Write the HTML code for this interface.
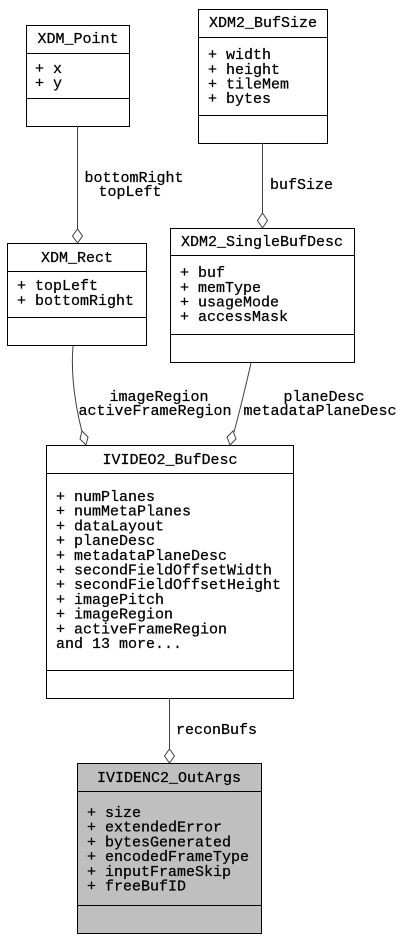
<!DOCTYPE html>
<html><head><meta charset="utf-8"><style>
html,body{margin:0;padding:0;background:#fff;}
svg{display:block;}
text{font-family:"Liberation Mono","DejaVu Sans Mono",monospace;font-size:15px;fill:#000;stroke:#000;stroke-width:0.25;}
.c{text-anchor:middle;}
</style></head><body>
<svg width="420" height="940" viewBox="0 0 420 940" xmlns="http://www.w3.org/2000/svg">
<g fill="#fff" stroke="#000" stroke-width="1">
<rect x="26.5" y="25.5" width="103" height="101"/>
<line x1="26.5" y1="53.5" x2="129.5" y2="53.5"/>
<line x1="26.5" y1="98.5" x2="129.5" y2="98.5"/>
<rect x="198.5" y="9.5" width="129" height="134"/>
<line x1="198.5" y1="37.5" x2="327.5" y2="37.5"/>
<line x1="198.5" y1="115.5" x2="327.5" y2="115.5"/>
<rect x="7.5" y="243.5" width="139" height="102"/>
<line x1="7.5" y1="271.5" x2="146.5" y2="271.5"/>
<line x1="7.5" y1="317.5" x2="146.5" y2="317.5"/>
<rect x="170.5" y="228.5" width="184" height="134"/>
<line x1="170.5" y1="255.5" x2="354.5" y2="255.5"/>
<line x1="170.5" y1="334.5" x2="354.5" y2="334.5"/>
<rect x="46.5" y="445.5" width="247" height="253"/>
<line x1="46.5" y1="473.5" x2="293.5" y2="473.5"/>
<line x1="46.5" y1="670.5" x2="293.5" y2="670.5"/>
<rect x="77.5" y="763.5" width="184" height="170" fill="#bfbfbf"/>
<line x1="77.5" y1="791.5" x2="261.5" y2="791.5"/>
<line x1="77.5" y1="905.5" x2="261.5" y2="905.5"/>
</g>
<g fill="none" stroke="#404040" stroke-width="1">
<line x1="77.5" y1="126" x2="77.5" y2="229"/>
<polygon points="77.5,243 72.5,236 77.5,229 82.5,236" fill="#fff"/>
<line x1="262.5" y1="143" x2="262.5" y2="213"/>
<polygon points="262.5,228 257.5,220.5 262.5,213 267.5,220.5" fill="#fff"/>
<path d="M73,346 C71,370 74,400 82,432"/>
<polygon points="86,445 80,439 82,431 88,437" fill="#fff"/>
<path d="M251,363 C246,385 240,410 234,432"/>
<polygon points="230,445 227,437 233,431 236,439" fill="#fff"/>
<line x1="169.5" y1="698" x2="169.5" y2="749"/>
<polygon points="169.5,763 164.5,756 169.5,749 174.5,756" fill="#fff"/>
</g>
<text class="c" x="78" y="43">XDM_Point</text>
<text class="c" x="263" y="27">XDM2_BufSize</text>
<text class="c" x="77" y="262">XDM_Rect</text>
<text class="c" x="262" y="246">XDM2_SingleBufDesc</text>
<text class="c" x="170" y="464">IVIDEO2_BufDesc</text>
<text class="c" x="169" y="782">IVIDENC2_OutArgs</text>
<text x="35" y="73">+ x</text>
<text x="35" y="87.5">+ y</text>
<text x="208" y="59">+ width</text>
<text x="208" y="74">+ height</text>
<text x="208" y="88.5">+ tileMem</text>
<text x="208" y="103">+ bytes</text>
<text x="17" y="290">+ topLeft</text>
<text x="17" y="305">+ bottomRight</text>
<text x="180" y="277">+ buf</text>
<text x="180" y="292">+ memType</text>
<text x="180" y="306.5">+ usageMode</text>
<text x="180" y="321">+ accessMask</text>
<text x="56" y="501">+ numPlanes</text>
<text x="56" y="515.7">+ numMetaPlanes</text>
<text x="56" y="530.4">+ dataLayout</text>
<text x="56" y="545.1">+ planeDesc</text>
<text x="56" y="559.8">+ metadataPlaneDesc</text>
<text x="56" y="574.5">+ secondFieldOffsetWidth</text>
<text x="56" y="589.2">+ secondFieldOffsetHeight</text>
<text x="56" y="603.9">+ imagePitch</text>
<text x="56" y="618.6">+ imageRegion</text>
<text x="56" y="633.3">+ activeFrameRegion</text>
<text x="56" y="648">and 13 more...</text>
<text x="87" y="817">+ size</text>
<text x="87" y="831.7">+ extendedError</text>
<text x="87" y="846.4">+ bytesGenerated</text>
<text x="87" y="861.1">+ encodedFrameType</text>
<text x="87" y="875.8">+ inputFrameSkip</text>
<text x="87" y="890.5">+ freeBufID</text>
<text class="c" x="134" y="182">bottomRight</text>
<text class="c" x="130" y="196">topLeft</text>
<text x="270" y="189">bufSize</text>
<text class="c" x="159" y="401">imageRegion</text>
<text class="c" x="155" y="415">activeFrameRegion</text>
<text class="c" x="324" y="401">planeDesc</text>
<text class="c" x="320" y="415">metadataPlaneDesc</text>
<text x="176" y="734">reconBufs</text>
</svg>
</body></html>
